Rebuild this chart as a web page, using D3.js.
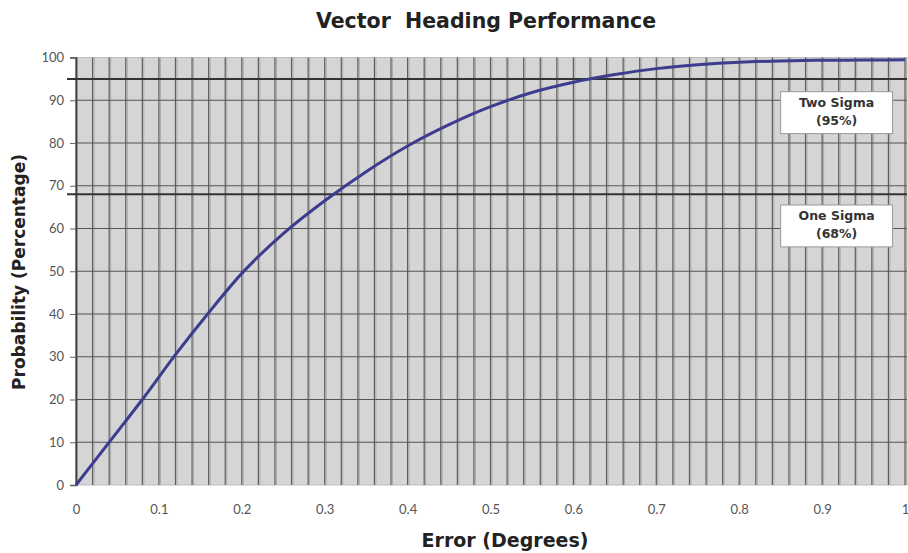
<!DOCTYPE html>
<html>
<head>
  <title>Vector Heading Performance</title>
  <script src="https://cdn.jsdelivr.net/npm/d3@7"></script>
  <style>
    body { margin: 0; background: #fff; }
    text { font-family: Lato, "Open Sans", sans-serif; }
    .tick-label { fill: #555; font-size: 13px; }
    .axis-title { font-family: "DejaVu Sans", sans-serif; font-weight: bold; font-size: 17px; fill: #222; }
  </style>
</head>
<body>
  <svg id="chart" width="908" height="553"></svg>

  <script>
    // Curve: error (degrees) vs probability (%)
    const errorDeg = [0, 0.04, 0.08, 0.12, 0.16, 0.2, 0.25, 0.3, 0.35, 0.4, 0.45, 0.5,
                      0.55, 0.6, 0.65, 0.7, 0.75, 0.8, 0.85, 0.9, 0.95, 1];
    const probability = [0, 10, 20, 30.5, 40.3, 49.5, 58.8, 66.5, 73.3, 79.3, 84.3, 88.5,
                         91.8, 94.2, 96, 97.4, 98.3, 98.9, 99.2, 99.35, 99.4, 99.45];

    const xTicks = [0, 0.1, 0.2, 0.3, 0.4, 0.5, 0.6, 0.7, 0.8, 0.9, 1];
    const yTicks = [0, 10, 20, 30, 40, 50, 60, 70, 80, 90, 100];

    // sigma reference lines and their boxed labels
    const sigmaNames = ['Two Sigma', 'One Sigma'];
    const sigmaValues = [95, 68];
    const sigmaLabels = ['(95%)', '(68%)'];

    const svg = d3.select('#chart');

    const x = d3.scaleLinear().domain([0, 1]).range([76, 905]);
    const y = d3.scaleLinear().domain([0, 100]).range([485, 57.5]);

    // plot background
    svg.append('rect')
      .attr('x', x(0)).attr('y', y(100))
      .attr('width', 907 - x(0)).attr('height', y(0) - y(100))
      .attr('fill', '#d5d5d5')
      .attr('stroke', '#bdbdbd')
      .attr('stroke-width', 1);

    // vertical grid every 0.02
    const vGrid = d3.range(0, 51).map(i => i / 50);
    svg.selectAll('.vgrid-shadow')
      .data(vGrid)
      .enter()
      .append('line')
      .attr('x1', d => x(d) + 1.5).attr('x2', d => x(d) + 1.5)
      .attr('y1', y(100)).attr('y2', y(0))
      .attr('stroke', '#ababab').attr('stroke-width', 1);
    svg.selectAll('.vgrid')
      .data(vGrid)
      .enter()
      .append('line')
      .attr('x1', d => x(d)).attr('x2', d => x(d))
      .attr('y1', y(100)).attr('y2', y(0))
      .attr('stroke', '#5e5e5e').attr('stroke-width', 1.2);

    // horizontal grid every 10
    svg.selectAll('.hgrid')
      .data(yTicks.filter(d => d > 0 && d < 100))
      .enter()
      .append('line')
      .attr('x1', x(0)).attr('x2', 907)
      .attr('y1', d => y(d)).attr('y2', d => y(d))
      .attr('stroke', '#555').attr('stroke-width', 1.2);

    // y-axis
    const yAxis = svg.append('g')
      .attr('transform', `translate(${x(0)},0)`)
      .call(d3.axisLeft(y).tickValues(yTicks).tickSize(6).tickPadding(6));
    yAxis.select('.domain').attr('stroke', '#444').attr('stroke-width', 1.5);
    yAxis.selectAll('.tick line').attr('stroke', '#666');
    yAxis.selectAll('.tick text').attr('class', 'tick-label');

    // x-axis labels (no ticks)
    const xAxis = svg.append('g')
      .attr('transform', `translate(0,${y(0)})`)
      .call(d3.axisBottom(x).tickValues(xTicks).tickSize(0).tickPadding(20)
        .tickFormat(d => d3.format('')(d)));
    xAxis.select('.domain').remove();
    xAxis.selectAll('.tick text').attr('class', 'tick-label');

    // sigma lines
    svg.selectAll('.sigma')
      .data(sigmaValues)
      .enter()
      .append('line')
      .attr('x1', 67).attr('x2', 907)
      .attr('y1', d => y(d)).attr('y2', d => y(d))
      .attr('stroke', '#333').attr('stroke-width', 2);

    // curve
    const line = d3.line()
      .x(d => x(d[0]))
      .y(d => y(d[1]))
      .curve(d3.curveMonotoneX);
    svg.append('path')
      .datum(errorDeg.map((e, i) => [e, probability[i]]))
      .attr('d', line)
      .attr('fill', 'none')
      .attr('stroke', '#3d3d8f')
      .attr('stroke-width', 3);

    // label boxes
    const boxTop = [92, 65.5];
    sigmaNames.forEach((name, i) => {
      const g = svg.append('g');
      g.append('rect')
        .attr('x', x(0.85)).attr('y', y(boxTop[i]))
        .attr('width', x(0.985) - x(0.85))
        .attr('height', y(boxTop[i] - 9.8) - y(boxTop[i]))
        .attr('fill', '#fff')
        .attr('stroke', '#999');
      const cx = (x(0.85) + x(0.985)) / 2;
      g.append('text')
        .attr('x', cx).attr('y', y(boxTop[i]) + 15)
        .attr('text-anchor', 'middle')
        .style('font-family', '"DejaVu Sans", sans-serif')
        .style('font-size', '12.5px').style('font-weight', 'bold').style('fill', '#333')
        .text(name);
      g.append('text')
        .attr('x', cx).attr('y', y(boxTop[i]) + 33)
        .attr('text-anchor', 'middle')
        .style('font-family', '"DejaVu Sans", sans-serif')
        .style('font-size', '12.5px').style('font-weight', 'bold').style('fill', '#333')
        .text(sigmaLabels[i]);
    });

    // title
    svg.append('text')
      .attr('x', 486).attr('y', 28)
      .attr('text-anchor', 'middle')
      .style('font-family', '"DejaVu Sans", sans-serif')
      .style('font-size', '20.5px').style('font-weight', 'bold').style('fill', '#222')
      .style('white-space', 'pre')
      .text('Vector  Heading Performance');

    // axis titles
    svg.append('text')
      .attr('class', 'axis-title')
      .attr('x', 505).attr('y', 547)
      .attr('text-anchor', 'middle')
      .style('font-size', '19px')
      .text('Error (Degrees)');

    svg.append('text')
      .attr('class', 'axis-title')
      .attr('transform', 'translate(25,272) rotate(-90)')
      .attr('text-anchor', 'middle')
      .text('Probability (Percentage)');
  </script>
</body>
</html>
